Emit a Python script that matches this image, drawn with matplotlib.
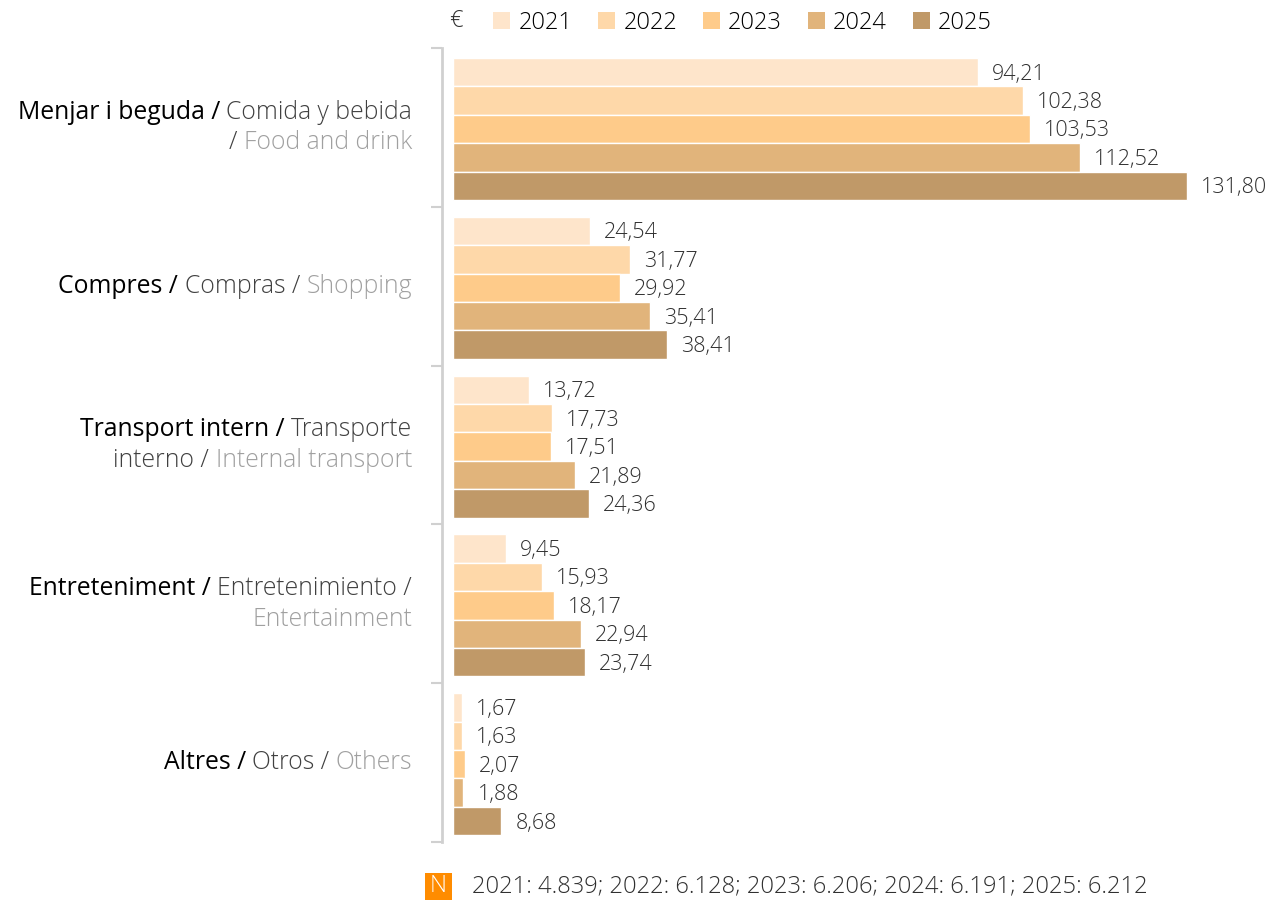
import matplotlib

matplotlib.use("Agg")

import matplotlib.pyplot as plt
from matplotlib.patches import Patch, Rectangle
from matplotlib.offsetbox import TextArea, HPacker, VPacker, AnnotationBbox
from matplotlib import font_manager

years = ["2021", "2022", "2023", "2024", "2025"]
colors = ["#FEE5CB", "#FED8A9", "#FECB8A", "#E1B47B", "#C09968"]

# spend per category, one list per year (Food, Shopping, Internal transport, Entertainment, Others)
spend_2021 = [94.21, 24.54, 13.72, 9.45, 1.67]
spend_2022 = [102.38, 31.77, 17.73, 15.93, 1.63]
spend_2023 = [103.53, 29.92, 17.51, 18.17, 2.07]
spend_2024 = [112.52, 35.41, 21.89, 22.94, 1.88]
spend_2025 = [131.80, 38.41, 24.36, 23.74, 8.68]
series = [spend_2021, spend_2022, spend_2023, spend_2024, spend_2025]

# category labels: lines of (text, tone) pieces; tone 0 = Catalan, 1 = Spanish, 2 = English
cat_labels = [
    [[("Menjar i beguda / ", 0), ("Comida y bebida", 1)],
     [("/ ", 1), ("Food and drink", 2)]],
    [[("Compres / ", 0), ("Compras / ", 1), ("Shopping", 2)]],
    [[("Transport intern / ", 0), ("Transporte", 1)],
     [("interno / ", 1), ("Internal transport", 2)]],
    [[("Entreteniment / ", 0), ("Entretenimiento /", 1)],
     [("Entertainment", 2)]],
    [[("Altres / ", 0), ("Otros / ", 1), ("Others", 2)]],
]

sample_note = "2021: 4.839; 2022: 6.128; 2023: 6.206; 2024: 6.191; 2025: 6.212"

family = "Open Sans"
names = {f.name for f in font_manager.fontManager.ttflist}
if family not in names:
    family = "DejaVu Sans"
plt.rcParams["font.family"] = [family, "DejaVu Sans"]

tone_style = [
    dict(color="#000000", weight="normal"),
    dict(color="#404040", weight="light"),
    dict(color="#A0A0A0", weight="light"),
]

fig = plt.figure(figsize=(12.7, 9.01), dpi=100)
ax = fig.add_axes([453 / 1270, 59 / 901, 1 - 453 / 1270, (842 - 48) / 901])

bar_h = 0.179
for i, (vals, col, yr) in enumerate(zip(series, colors, years)):
    pos = [g - 2 * bar_h + i * bar_h + 0.01 for g in range(len(vals))]
    ax.barh(pos, vals, height=bar_h, color=col, edgecolor="white", linewidth=1, label=yr)
    for p, v in zip(pos, vals):
        ax.annotate(f"{v:.2f}".replace(".", ","), (v, p), xytext=(14, -2),
                    textcoords="offset pixels", va="center", ha="left",
                    fontsize=15.5, color="#303030", weight="light")

ax.set_xlim(0, (1270 - 453) / 5.57)
ax.set_ylim(4.5, -0.5)
ax.set_xticks([])
ax.set_yticks([g - 0.5 for g in range(len(cat_labels) + 1)])
ax.set_yticklabels([])
ax.tick_params(axis="y", length=8, width=1.5, color="#D0D0D0")
for side in ["top", "right", "bottom"]:
    ax.spines[side].set_visible(False)
ax.spines["left"].set_color("#D0D0D0")
ax.spines["left"].set_linewidth(2)
ax.spines["left"].set_position(("outward", 8))

# multi-colour category labels, right aligned next to the axis
trans = ax.get_yaxis_transform()
for g, lines in enumerate(cat_labels):
    rows = []
    for line in lines:
        parts = [TextArea(txt, textprops=dict(fontsize=17.8, **tone_style[tone]))
                 for txt, tone in line]
        rows.append(HPacker(children=parts, pad=0, sep=0, align="baseline"))
    box = VPacker(children=rows, pad=0, sep=4, align="right")
    ab = AnnotationBbox(box, (0, g), xycoords=trans, xybox=(-41, 0),
                        boxcoords="offset pixels", box_alignment=(1, 0.5),
                        frameon=False)
    ax.add_artist(ab)

# legend row
fig.text(449 / 1270, 1 - 21 / 901, "€", fontsize=17, color="#303030",
         va="center", ha="left", weight="light")
handles = [Patch(facecolor=c, edgecolor="none") for c in colors]
fig.legend(handles, years, loc="center left", bbox_to_anchor=(484 / 1270, 1 - 23 / 901),
           ncol=5, frameon=False, handlelength=0.72, handleheight=0.72,
           handletextpad=0.34, columnspacing=1.1, borderaxespad=0,
           prop=dict(family=family, weight="light", size=17))

# sample size note
fig.add_artist(Rectangle((425 / 1270, 1 - 900 / 901), 27 / 1270, 27 / 901,
                         transform=fig.transFigure, facecolor="#FF8C00",
                         edgecolor="none"))
fig.text(438.5 / 1270, 1 - 886 / 901, "N", fontsize=17, color="white", va="center",
         ha="center", weight="light")
fig.text(472 / 1270, 1 - 886 / 901, sample_note, fontsize=17.1, color="#303030",
         va="center", ha="left", weight="light")

fig.savefig("out.png", dpi=100)
plt.close(fig)
